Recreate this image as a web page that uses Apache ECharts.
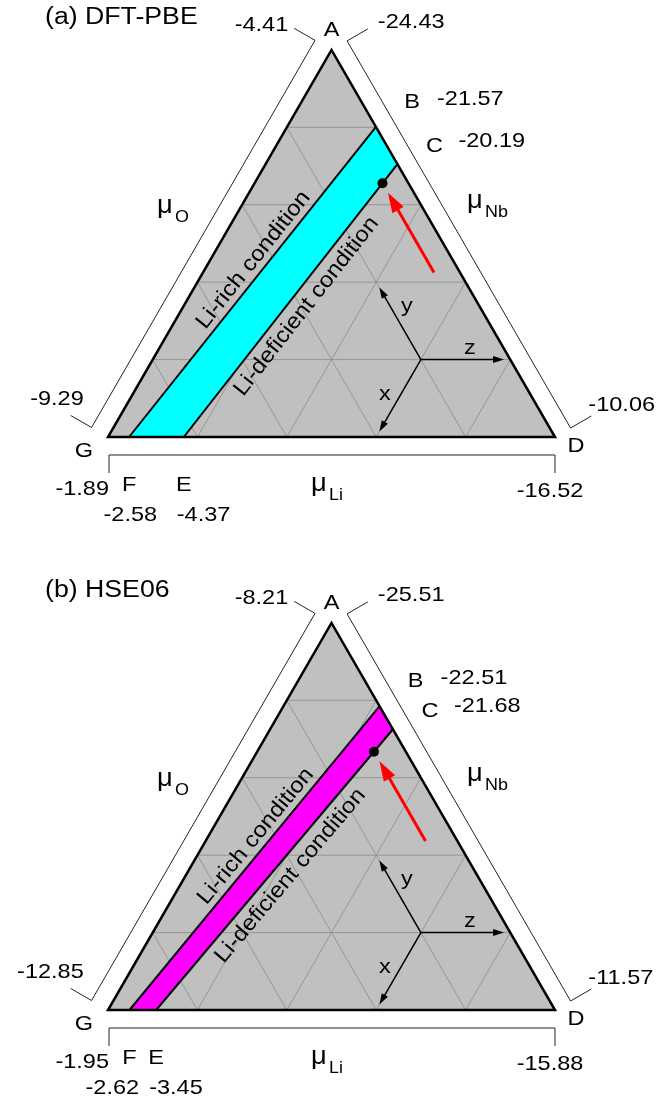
<!DOCTYPE html>
<html><head><meta charset="utf-8">
<script src="https://cdn.jsdelivr.net/npm/echarts@6/dist/echarts.min.js"></script>
<style>html,body{margin:0;padding:0;background:#fff}#c{width:657px;height:1104px}</style>
</head><body><div id="c"></div>
<script>
// ---------------- data ----------------
const panelTitles = ['(a) DFT-PBE', '(b) HSE06'];
const muO_A  = [-4.41, -8.21];     // mu_O at vertex A
const muO_G  = [-9.29, -12.85];    // mu_O at vertex G
const muNb_A = [-24.43, -25.51];
const muNb_B = [-21.57, -22.51];
const muNb_C = [-20.19, -21.68];
const muNb_D = [-10.06, -11.57];
const muLi_G = [-1.89, -1.95];
const muLi_F = [-2.58, -2.62];
const muLi_E = [-4.37, -3.45];
const muLi_D = [-16.52, -15.88];
const pointOnCE = [0.07, 0.08];     // selected point, fraction along C -> E
const vertexNames = ['A', 'B', 'C', 'D', 'E', 'F', 'G'];
const bandNames = ['Li-rich condition', 'Li-deficient condition'];
const axisNames = ['x', 'y', 'z'];
const gridDivisions = 5;
const bandColors = ['#00ffff', '#ff00ff'];

// ---------------- drawing ----------------
const FONT = '"Liberation Sans", Arial, sans-serif';
const S = Math.sqrt(3) / 2;
const SX = 1.12;
const fmt = v => v.toFixed(2);

function txt(x, y, text, size, align, extra) {
  return Object.assign({
    type: 'text', x: x, y: y, scaleX: SX,
    style: { text: text, fill: '#000', font: size + 'px ' + FONT, align: align || 'center', verticalAlign: 'middle' }
  }, extra || {});
}
// text placed by its baseline
function txtB(x, base, text, size, align, extra) { return txt(x, base - 0.35 * size, text, size, align, extra); }
function seg(p, q, w, col) {
  return { type: 'line', shape: { x1: p[0], y1: p[1], x2: q[0], y2: q[1] }, style: { stroke: col, lineWidth: w, lineCap: 'butt' } };
}
function arrow(from, to, w, col, hl, hw) {
  const dx = to[0] - from[0], dy = to[1] - from[1], L = Math.hypot(dx, dy), ux = dx / L, uy = dy / L;
  const base = [to[0] - ux * hl * 0.8, to[1] - uy * hl * 0.8];
  const b2 = [to[0] - ux * hl, to[1] - uy * hl];
  return [seg(from, base, w, col), {
    type: 'polygon',
    shape: { points: [to, [b2[0] - uy * hw, b2[1] + ux * hw], [b2[0] + uy * hw, b2[1] - ux * hw]] },
    style: { fill: col }
  }];
}
const add = (p, v, k) => [p[0] + v[0] * k, p[1] + v[1] * k];

function makeRender(pi) {
  return function (params, api) {
    const c = (x, y) => api.coord([x, y]);
    const G = c(0, 0), D = c(1, 0), A = c(0.5, S);
    const unit = D[0] - G[0];
    const baseF = v => (v - muLi_G[pi]) / (muLi_D[pi] - muLi_G[pi]);
    const rightF = v => (v - muNb_A[pi]) / (muNb_D[pi] - muNb_A[pi]);
    const onRight = g => c(0.5 + 0.5 * g, S * (1 - g));
    const F = c(baseF(muLi_F[pi]), 0), E = c(baseF(muLi_E[pi]), 0);
    const B = onRight(rightF(muNb_B[pi])), C = onRight(rightF(muNb_C[pi]));
    const ch = [];

    // triangle fill
    ch.push({ type: 'polygon', shape: { points: [G, D, A] }, style: { fill: '#c0c0c0' } });
    // grid
    for (let k = 1; k < gridDivisions; k++) {
      const t = k / gridDivisions;
      ch.push(seg(c(t / 2, t * S), c(1 - t / 2, t * S), 0.8, '#8a8a8a'));
      ch.push(seg(c(t, 0), c((1 + t) / 2, (1 - t) * S), 0.8, '#8a8a8a'));
      ch.push(seg(c(t, 0), c(t / 2, t * S), 0.8, '#8a8a8a'));
    }
    // band
    ch.push({ type: 'polygon', shape: { points: [F, B, C, E] }, style: { fill: bandColors[pi] } });
    ch.push(seg(F, B, 2, '#000'));
    ch.push(seg(E, C, 2, '#000'));
    // triangle border
    ch.push({ type: 'polygon', shape: { points: [G, D, A] }, style: { fill: null, stroke: '#000', lineWidth: 2.5, lineJoin: 'miter' } });

    // brackets
    const bc = '#222', bw = 1;
    const nL = [-S, -0.5], nR = [S, -0.5];
    const Lt = add(A, nL, 19), Lb = add(G, nL, 19);
    const LtT = add(Lt, nL, 24), LbT = add(Lb, nL, 24);
    ch.push(seg(Lb, Lt, bw, bc), seg(Lt, LtT, bw, bc), seg(Lb, LbT, bw, bc));
    const Rt = add(A, nR, 18), Rb = add(D, nR, 18);
    const RtT = add(Rt, nR, 24), RbT = add(Rb, nR, 24);
    ch.push(seg(Rt, Rb, bw, bc), seg(Rt, RtT, bw, bc), seg(Rb, RbT, bw, bc));
    const by = G[1] + 18;
    ch.push(seg([G[0] + 1, by], [D[0], by], bw, bc), seg([G[0] + 1, by], [G[0] + 1, by + 18], bw, bc), seg([D[0], by], [D[0], by + 18], bw, bc));

    // texts
    const fs = 21;
    ch.push(txt(G[0] - 63, G[1] - 419, panelTitles[pi], 23, 'left', { scaleX: 1.16 }));
    ch.push(txt(A[0], A[1] - 20, vertexNames[0], fs));
    ch.push(txt(LtT[0] - 6, LtT[1] - 3, fmt(muO_A[pi]), fs, 'right'));
    ch.push(txt(RtT[0] + 10, RtT[1] - 7, fmt(muNb_A[pi]), fs, 'left'));
    ch.push(txt(LbT[0] + 13, LbT[1] - 16, fmt(muO_G[pi]), fs, 'right'));
    ch.push(txt(RbT[0] - 3, RbT[1] - 11, fmt(muNb_D[pi]), fs, 'left'));
    ch.push(txt(G[0] - 24, G[1] + 14, vertexNames[6], fs));
    ch.push(txt(D[0] + 21, D[1] + 9, vertexNames[3], fs));
    ch.push(txt(G[0] + 1, G[1] + 52, fmt(muLi_G[pi]), fs, 'right'));
    ch.push(txt(D[0] - 5, D[1] + 54, fmt(muLi_D[pi]), fs));
    ch.push(txt(F[0], G[1] + 48, vertexNames[5], fs));
    ch.push(txt(E[0], G[1] + 48, vertexNames[4], fs));
    const eLeft = E[0] - 7;
    ch.push(txt(eLeft, G[1] + 78, fmt(muLi_E[pi]), fs, 'left'));
    ch.push(txt(Math.min(F[0] + 28, eLeft - 10), G[1] + 78, fmt(muLi_F[pi]), fs, 'right'));
    ch.push(txt(B[0] + 36, B[1] - 25, vertexNames[1], fs));
    ch.push(txt(B[0] + 61, B[1] - 28, fmt(muNb_B[pi]), fs, 'left'));
    ch.push(txt(C[0] + 37, C[1] - 18, vertexNames[2], fs));
    ch.push(txt(C[0] + 61, C[1] - 23, fmt(muNb_C[pi]), fs, 'left'));
    // mu labels
    const mu = (x, base, sub) => [txtB(x, base, 'μ', 26, 'left', { scaleX: 1.05 }), txtB(x + 18, base + 8, sub, 16, 'left')];
    ch.push(...mu(G[0] + 49, G[1] - 222, 'O'));
    ch.push(...mu(G[0] + 359, G[1] - 227, 'Nb'));
    ch.push(...mu(G[0] + 203, G[1] + 56, 'Li'));

    // band labels
    const u1 = [(B[0] - F[0]), (B[1] - F[1])], L1 = Math.hypot(u1[0], u1[1]);
    const d1 = [u1[0] / L1, u1[1] / L1];
    const ang = Math.atan2(-d1[1], d1[0]);
    const p1 = add(add(F, d1, 0.545 * L1), [d1[1], -d1[0]], 13);
    ch.push(txt(p1[0], p1[1], bandNames[0], 22, 'center', { rotation: ang, scaleX: 1.1 }));
    const u2 = [(C[0] - E[0]), (C[1] - E[1])], L2 = Math.hypot(u2[0], u2[1]);
    const d2 = [u2[0] / L2, u2[1] / L2];
    const p2 = add(add(E, d2, 0.515 * L2), [-d2[1], d2[0]], 16);
    ch.push(txt(p2[0], p2[1], bandNames[1], 22, 'center', { rotation: Math.atan2(-d2[1], d2[0]), scaleX: 1.1 }));

    // selected point and red arrow
    const P = [C[0] + (E[0] - C[0]) * pointOnCE[pi], C[1] + (E[1] - C[1]) * pointOnCE[pi]];
    const dirR = [0.5, S];
    const tip = add(P, dirR, 11), tail = add(tip, dirR, 92);
    ch.push(...arrow(tail, tip, 3, '#ff0000', 20, 6.5));
    ch.push({ type: 'circle', shape: { cx: P[0], cy: P[1], r: 5 }, style: { fill: '#000' } });

    // axis arrows
    const O = c(0.7, 0.2 * S);
    const al = 0.186 * unit;
    ch.push(...arrow(O, add(O, [1, 0], al), 1.5, '#000', 11, 3.5));
    ch.push(...arrow(O, add(O, [-0.5, -S], al), 1.5, '#000', 11, 3.5));
    ch.push(...arrow(O, add(O, [-0.5, S], al), 1.5, '#000', 11, 3.5));
    ch.push(txtB(O[0] - 14, O[1] - 46, axisNames[1], fs));
    ch.push(txtB(O[0] + 49, O[1] - 4, axisNames[2], fs));
    ch.push(txtB(O[0] - 36, O[1] + 42, axisNames[0], fs));

    return { type: 'group', children: ch };
  };
}

const U = 447;
const chart = echarts.init(document.getElementById('c'), null, { renderer: 'canvas' });
const ax = (gi, min, max) => ({ gridIndex: gi, type: 'value', min: min, max: max, show: false });
chart.setOption({
  animation: false,
  backgroundColor: '#fff',
  grid: [
    { left: 0, top: 0, width: 657, height: 552 },
    { left: 0, top: 552, width: 657, height: 552 }
  ],
  xAxis: [ax(0, -108 / U, 549 / U), ax(1, -108 / U, 549 / U)],
  yAxis: [ax(0, -115 / U, 437 / U), ax(1, -94 / U, 458 / U)],
  series: [0, 1].map(pi => ({
    type: 'custom', xAxisIndex: pi, yAxisIndex: pi, clip: false,
    renderItem: makeRender(pi), data: [[0, 0]]
  }))
});
</script></body></html>
